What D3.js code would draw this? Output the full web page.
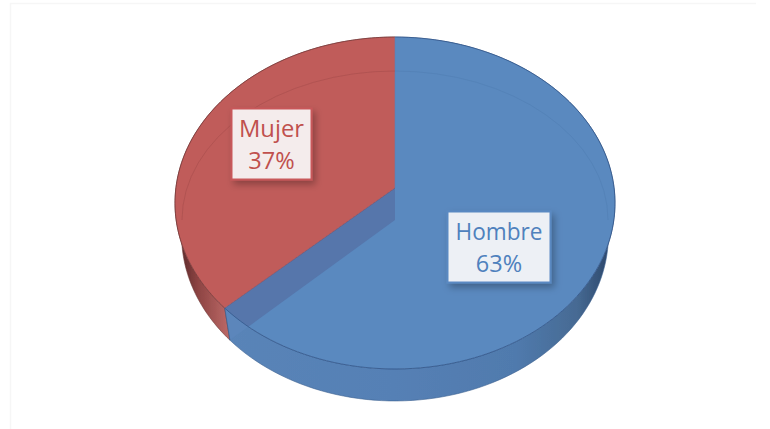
<!DOCTYPE html>
<html><head><meta charset="utf-8">
<script src="https://cdn.jsdelivr.net/npm/d3@7/dist/d3.min.js"></script>
<style>html,body{margin:0;padding:0;background:#fff}svg{display:block}</style>
</head><body><svg id="c" width="770" height="429"></svg>
<script>
const categories = ["Hombre", "Mujer"];
const values = [63, 37];
const topColors = ["#5a89bf", "#c05c5a"];
const textColors = ["#4f81bd", "#c0504d"];
const boxFills = ["#edf0f5", "#f4ecec"];
const boxStrokes = ["#5a89c2", "#c8595a"];

const svg = d3.select("#c");
const defs = svg.append("defs");

// Tilted-disc projection (perspective: disc centre sits above the ellipse centre)
const cx = 395, cy = 188, depth = 32, k = -0.0904, ax = 219.1, by = 164.6, taper = 0.97;
const project = (t, r = 1) => {
  const s = Math.sin(t) * r, y = -Math.cos(t) * r, d = 1 + k * y;
  return [cx + ax * s / d, cy + by * y / d];
};
const pie = d3.pie().sort(null).startAngle(0).endAngle(2 * Math.PI);
const arcs = pie(values);
const samples = (a, b) => d3.range(0, 121).map(i => a + (b - a) * i / 120);
const line = d3.line();
const shift = p => [cx + (p[0] - cx) * taper, p[1] + depth];
const arcPts = d => samples(d.startAngle, d.endAngle).map(t => project(t));
const topPath = d => line([[cx, cy], ...arcPts(d)]) + "Z";
const wallPath = d => { const p = arcPts(d); return line([...p, ...p.map(shift).reverse()]) + "Z"; };

// gradients and effects
const grad = (id, stops) => {
  const g = defs.append("linearGradient").attr("id", id).attr("gradientUnits", "userSpaceOnUse")
    .attr("x1", 175).attr("x2", 612).attr("y1", 0).attr("y2", 0);
  stops.forEach(s => g.append("stop").attr("offset", s[0]).attr("stop-color", s[1]));
};
grad("wallBlue", [[0, "#5b85b8"], [0.5, "#5580b5"], [0.78, "#507aad"], [0.92, "#466a93"], [1, "#2c4569"]]);
const rg = defs.append("linearGradient").attr("id", "wallRed").attr("gradientUnits", "userSpaceOnUse")
  .attr("x1", 180).attr("x2", 230).attr("y1", 0).attr("y2", 0);
[[0, "#5a2a2a"], [0.35, "#8c4342"], [1, "#bd6a68"]].forEach(s => rg.append("stop").attr("offset", s[0]).attr("stop-color", s[1]));
const f = defs.append("filter").attr("id", "shadow").attr("x", "-20%").attr("y", "-20%").attr("width", "150%").attr("height", "150%");
f.append("feDropShadow").attr("dx", 3).attr("dy", 4).attr("stdDeviation", 3.5).attr("flood-color", "#000").attr("flood-opacity", 0.28);
defs.append("filter").attr("id", "soft").append("feGaussianBlur").attr("stdDeviation", 0.35);
arcs.forEach((d, i) => defs.append("clipPath").attr("id", "clip" + i).append("path").attr("d", topPath(d)));

// faint page frame
svg.append("path").attr("d", "M10.5 429V3.5H756").attr("fill", "none").attr("stroke", "#f6f6f6").attr("stroke-width", 1.5);

const chart = svg.append("g").attr("filter", "url(#soft)");

// side walls
chart.selectAll("path.wall").data(arcs).join("path").attr("class", "wall")
  .attr("d", wallPath)
  .attr("fill", (d, i) => i === 0 ? "url(#wallBlue)" : "url(#wallRed)")
  .attr("stroke", (d, i) => i === 0 ? "#3d6190" : "#6d3736").attr("stroke-width", 0.6);

// cut face between the slices
const split = project(arcs[0].endAngle);
const face = [[cx, cy], split, shift(split), [cx, cy + depth]];
chart.append("path").attr("d", line(face) + "Z").attr("fill", "#5b86bb");

// top surfaces
chart.selectAll("path.top").data(arcs).join("path").attr("class", "top")
  .attr("d", topPath).attr("fill", (d, i) => topColors[i]);
chart.append("path").attr("d", line(face) + "Z").attr("fill", "#5676ab").attr("clip-path", "url(#clip0)");

// slice outlines
chart.selectAll("path.rim").data(arcs).join("path").attr("class", "rim")
  .attr("d", d => line(arcPts(d))).attr("fill", "none")
  .attr("stroke", (d, i) => i === 0 ? "#34578a" : "#7b3b3b").attr("stroke-width", 0.8);
chart.append("path").attr("d", line([split, [cx, cy]])).attr("stroke", "#7b5068").attr("stroke-width", 0.7).attr("fill", "none");
chart.append("path").attr("d", line([[cx, cy], project(0)])).attr("stroke", "#5a7fb2").attr("stroke-width", 0.6);
chart.append("path").attr("d", line([split, shift(split)])).attr("stroke", "#3d6190").attr("stroke-width", 0.7);

// inner bevel arcs
chart.append("path").attr("d", "M182 220A213 149 0 0 1 395 71").attr("fill", "none").attr("stroke", "#ab4f4e").attr("stroke-width", 0.7);
chart.append("path").attr("d", "M395 71A213 149 0 0 1 608 220").attr("fill", "none").attr("stroke", "#5180b5").attr("stroke-width", 0.7);

// data labels
const labelBoxes = [{x: 447.5, y: 211.5, w: 103, h: 71}, {x: 231.5, y: 108.5, w: 80, h: 71}];
const labels = svg.selectAll("g.label").data(arcs).join("g").attr("class", "label")
  .attr("transform", (d, i) => `translate(${labelBoxes[i].x},${labelBoxes[i].y})`);
labels.append("rect").attr("width", (d, i) => labelBoxes[i].w).attr("height", (d, i) => labelBoxes[i].h)
  .attr("fill", (d, i) => boxFills[i]).attr("stroke", (d, i) => boxStrokes[i]).attr("stroke-width", 2)
  .attr("filter", "url(#shadow)");
const txt = labels.append("text").attr("text-anchor", "middle")
  .attr("font-family", "'Open Sans','Noto Sans',sans-serif").attr("font-size", 23.5)
  .attr("fill", (d, i) => textColors[i]);
txt.append("tspan").attr("x", (d, i) => labelBoxes[i].w / 2).attr("y", 28)
  .attr("textLength", (d, i) => i === 0 ? 87 : 65).attr("lengthAdjust", "spacingAndGlyphs")
  .text((d, i) => categories[i]);
txt.append("tspan").attr("x", (d, i) => labelBoxes[i].w / 2).attr("y", 60.5)
  .text(d => d.value + "%");
</script></body></html>
